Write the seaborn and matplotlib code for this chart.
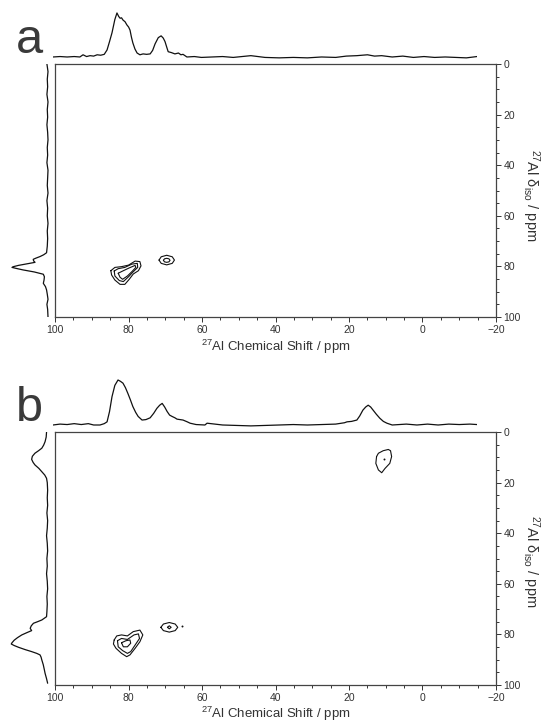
import matplotlib
matplotlib.use('Agg')
import matplotlib.pyplot as plt
import seaborn as sns
from matplotlib.ticker import MultipleLocator

# ---------------- data (ppm, normalised intensity) ----------------
# panel a, top (F2) projection
top_a_ppm = [100, 98, 96, 94, 92.4, 91.5, 90.5, 89.5, 88.5, 87.5, 86.5, 85.5, 84.7, 84.0, 83.3,
             82.5, 81.9, 81.4, 81.0, 80.6, 80.2, 79.6, 79.1, 78.6, 78.2, 77.8, 77.4, 76.8, 76.2,
             75.4, 74.5, 73.5, 72.5, 71.8, 71.1, 70.2, 69.4, 68.8, 68.3, 67.8, 67.4, 66.5, 65.5,
             64.5, 63.8, 63.2, 62.1, 60, 58, 55, 52, 49, 44, 40, 36, 32, 28, 24, 20, 17, 14, 11,
             9, 7, 4, 1, -2, -5, -8, -11, -14, -17, -19, -20]
top_a_int = [0.00, 0.01, 0.00, 0.01, 0.00, 0.05, 0.01, 0.03, 0.02, 0.05, 0.04, 0.06, 0.16, 0.35, 0.55,
             0.85, 1.00, 0.92, 0.88, 0.89, 0.84, 0.80, 0.73, 0.68, 0.61, 0.45, 0.32, 0.18, 0.09,
             0.05, 0.07, 0.06, 0.07, 0.15, 0.30, 0.44, 0.48, 0.43, 0.35, 0.22, 0.12, 0.10, 0.07,
             0.09, 0.05, 0.06, 0.00, 0.01, -0.01, 0.00, 0.01, -0.01, 0.03, -0.01, -0.02, -0.01,
             -0.02, 0.00, -0.01, 0.02, 0.03, 0.05, 0.02, 0.03, 0.00, 0.02, -0.01, 0.01, -0.01,
             0.00, -0.01, -0.02, 0.00, 0.01]

# panel a, left (isotropic) projection
left_a_ppm = [0, 3, 6, 9, 12, 15, 18, 21, 24, 27, 30, 33, 36, 39, 42, 45, 48, 51, 54, 57, 60, 63,
              66, 69, 72, 74.6, 75.4, 76.1, 76.7, 77.2, 77.8, 78.4, 79.0, 79.6, 80.1, 80.4, 80.9,
              81.4, 82.2, 83.1, 84.1, 85.4, 86.7, 88.0, 89.3, 91, 93, 95, 97, 100]
left_a_int = [0.03, 0.00, 0.02, 0.01, 0.03, 0.00, 0.02, 0.01, 0.03, 0.01, 0.00, 0.02, 0.01, 0.03,
              0.00, 0.01, 0.02, 0.00, 0.03, 0.01, 0.02, 0.00, 0.02, 0.01, 0.02, 0.04, 0.12, 0.22,
              0.33, 0.41, 0.40, 0.36, 0.59, 0.82, 0.96, 1.00, 0.85, 0.69, 0.38, 0.13, 0.10, 0.11,
              0.13, 0.07, 0.04, 0.02, 0.00, 0.03, 0.01, 0.00]

# panel b, top projection
top_b_ppm = [100, 98, 96, 94, 92, 90, 88.5, 86.7, 85.5, 84.7, 84.0, 83.3, 82.5, 81.6, 80.9, 80.2,
             79.5, 78.8, 78.1, 77.4, 76.6, 75.9, 74.8, 73.7, 72.5, 71.5, 70.6, 69.8, 69.1, 68.4,
             67.7, 67.0, 66.3, 65.5, 64.9, 63.2, 62.0, 61.2, 59.5, 57, 56.4, 52, 48, 44, 40, 36,
             32, 28, 24, 20, 17.5, 16.8, 15.5, 14.0, 13.2, 12.3, 11.5, 10.8, 10.1, 9.4, 8.5, 7.5,
             6.5, 5.5, 4.0, 2, 0, -3, -6, -9, -12, -15, -18, -20]
top_b_int = [0.00, 0.02, 0.01, 0.03, 0.01, 0.03, 0.00, 0.00, 0.03, 0.07, 0.30, 0.63, 0.88, 1.00,
             0.97, 0.93, 0.83, 0.70, 0.56, 0.41, 0.28, 0.19, 0.11, 0.12, 0.16, 0.26, 0.37, 0.44,
             0.48, 0.40, 0.30, 0.22, 0.19, 0.16, 0.13, 0.11, 0.07, 0.04, 0.01, 0.00, 0.04, 0.00,
             -0.01, -0.02, -0.01, 0.00, 0.01, 0.00, 0.01, 0.02, 0.05, 0.07, 0.08, 0.11, 0.20,
             0.33, 0.40, 0.44, 0.40, 0.33, 0.24, 0.15, 0.08, 0.04, 0.00, 0.01, 0.02, 0.00, 0.02,
             0.00, 0.02, 0.01, 0.02, 0.01]

# panel b, left projection
left_b_ppm = [0, 2, 3.8, 5.2, 6.4, 7.4, 8.4, 9.6, 10.8, 12.0, 13.0, 14.4, 15.7, 17.0, 18.3, 20, 23,
              26, 29, 32, 35, 38, 41, 44, 47, 50, 53, 56, 59, 62, 65, 68, 71, 73, 74.3, 75.0,
              75.6, 76.6, 77.6, 78.5, 79.3, 80.2, 81.3, 82.3, 83.3, 83.8, 84.4, 85.1, 86.0, 86.8,
              87.5, 88.1, 89.0, 90.1, 92, 94, 95.4, 97.5, 99.3]
left_b_int = [0.03, 0.04, 0.07, 0.11, 0.16, 0.25, 0.35, 0.42, 0.44, 0.40, 0.35, 0.24, 0.16, 0.08,
              0.03, 0.01, 0.00, 0.01, 0.00, 0.02, 0.00, 0.01, 0.03, 0.01, 0.00, 0.02, 0.01, 0.03,
              0.01, 0.00, 0.02, 0.01, 0.02, 0.03, 0.16, 0.28, 0.39, 0.45, 0.48, 0.44, 0.57, 0.71,
              0.83, 0.92, 0.98, 1.00, 0.92, 0.80, 0.62, 0.44, 0.30, 0.21, 0.18, 0.16, 0.12, 0.09,
              0.07, 0.03, 0.00]

a_tet_outer_x = [84.8, 83.7, 81.9, 80.0, 78.2, 76.9, 76.6, 77.3, 78.7, 79.8, 81.0, 82.3, 83.7, 84.6]
a_tet_outer_y = [81.7, 80.4, 80.1, 79.5, 77.9, 78.1, 79.8, 81.7, 83.0, 85.1, 87.1, 87.1, 85.4, 83.4]
a_tet_mid_x = [83.9, 82.8, 81.0, 79.1, 77.6, 77.5, 78.7, 80.0, 81.4, 82.5, 83.7]
a_tet_mid_y = [81.8, 80.9, 80.4, 79.1, 78.8, 80.4, 82.1, 84.1, 86.0, 85.6, 83.8]
a_tet_in_x = [82.8, 81.4, 79.8, 78.2, 78.0, 79.1, 80.3, 81.6, 82.3]
a_tet_in_y = [82.7, 81.7, 80.6, 79.6, 80.4, 82.1, 83.8, 85.1, 84.3]
a_p2_outer_x = [71.7, 71.1, 69.6, 68.1, 67.5, 68.1, 69.6, 71.1]
a_p2_outer_y = [77.5, 76.2, 75.6, 76.2, 77.5, 78.8, 79.4, 78.8]
a_p2_in_x = [70.5, 70.2, 69.6, 69.0, 68.7, 69.0, 69.6, 70.2]
a_p2_in_y = [77.6, 77.0, 76.8, 77.0, 77.6, 78.2, 78.4, 78.2]

b_tet_outer_x = [83.9, 83.2, 81.9, 80.3, 78.7, 76.9, 76.1, 76.9, 78.2, 79.6, 80.5, 81.9, 83.4, 84.1]
b_tet_outer_y = [82.2, 80.6, 80.2, 80.6, 78.9, 78.3, 80.2, 82.9, 85.5, 88.1, 88.8, 87.5, 85.5, 83.8]
b_tet_mid_x = [83.0, 81.9, 80.3, 78.5, 77.3, 77.0, 78.2, 79.4, 80.3, 81.6, 82.8]
b_tet_mid_y = [82.5, 81.6, 82.0, 80.2, 79.8, 81.6, 84.2, 86.8, 87.5, 86.4, 84.9]
b_tet_in_x = [81.9, 80.7, 79.6, 79.4, 80.3, 81.4]
b_tet_in_y = [83.3, 82.5, 82.2, 83.5, 84.9, 84.9]
b_p2_outer_x = [71.2, 70.5, 68.9, 67.3, 66.6, 67.3, 68.9, 70.5]
b_p2_outer_y = [77.2, 75.9, 75.3, 75.9, 77.2, 78.5, 79.1, 78.5]
b_p2_in_x = [69.4, 68.9, 68.4, 68.9]
b_p2_in_y = [77.2, 76.6, 77.2, 77.8]
b_oct_x = [12.5, 12.0, 10.7, 9.3, 8.7, 8.4, 8.9, 10.2, 11.1, 12.0, 12.7]
b_oct_y = [9.7, 8.4, 7.4, 6.9, 7.4, 9.7, 12.4, 14.4, 16.1, 15.0, 12.4]
b_dots_x = [10.4, 65.5]
b_dots_y = [10.8, 76.7]

x_ticks = [100, 80, 60, 40, 20, 0, -20]
y_ticks = [0, 20, 40, 60, 80, 100]
panel_labels = ['a', 'b']
xlabel = r'$^{27}$Al Chemical Shift / ppm'
ylabel = r'$^{27}$Al δ$_{iso}$ / ppm'

# ---------------- styling ----------------
sns.set_theme(style='white')
plt.rcParams['font.family'] = ['Liberation Sans', 'DejaVu Sans']
plt.rcParams['mathtext.fontset'] = 'custom'
plt.rcParams['mathtext.rm'] = 'Liberation Sans'
plt.rcParams['mathtext.it'] = 'Liberation Sans:italic'
plt.rcParams['mathtext.default'] = 'regular'

W, H = 541, 723
fig = plt.figure(figsize=(W / 100, H / 100), dpi=100)
TXT = '#333333'
LINE = '#111111'


def ax_px(x0, y0, x1, y1):
    return fig.add_axes([x0 / W, 1 - y1 / H, (x1 - x0) / W, (y1 - y0) / H])


def ring(ax, xs, ys, lw=0.8):
    sns.lineplot(x=list(xs) + [xs[0]], y=list(ys) + [ys[0]], sort=False, estimator=None,
                 color=LINE, lw=lw, ax=ax)


panels = [
    dict(main=(55, 64, 496, 317), top=(53, 8, 477, 62), left=(8, 64, 52, 317),
         label_xy=(16, 53), top_ylim=(-0.114, 1.113), left_xlim=(1.111, -0.111),
         top_data=(top_a_ppm, top_a_int), left_data=(left_a_ppm, left_a_int),
         rings=[(a_tet_outer_x, a_tet_outer_y), (a_tet_mid_x, a_tet_mid_y),
                (a_tet_in_x, a_tet_in_y), (a_p2_outer_x, a_p2_outer_y),
                (a_p2_in_x, a_p2_in_y)],
         dots=None, xlab_y=351, ylab=(531, 195)),
    dict(main=(55, 432, 496, 685), top=(53, 375, 477, 429), left=(8, 432, 52, 685),
         label_xy=(16, 421), top_ylim=(-0.089, 1.111), left_xlim=(1.09, -0.12),
         top_data=(top_b_ppm, top_b_int), left_data=(left_b_ppm, left_b_int),
         rings=[(b_tet_outer_x, b_tet_outer_y), (b_tet_mid_x, b_tet_mid_y),
                (b_tet_in_x, b_tet_in_y), (b_p2_outer_x, b_p2_outer_y),
                (b_p2_in_x, b_p2_in_y), (b_oct_x, b_oct_y)],
         dots=(b_dots_x, b_dots_y), xlab_y=718, ylab=(531, 561)),
]

for lab, p in zip(panel_labels, panels):
    # main 2D map
    ax = ax_px(*p['main'])
    for xs, ys in p['rings']:
        ring(ax, xs, ys)
    if p['dots'] is not None:
        sns.scatterplot(x=p['dots'][0], y=p['dots'][1], s=2, color=LINE, linewidth=0, ax=ax)
    ax.set_xlim(100, -20)
    ax.set_ylim(100, 0)
    ax.set_xticks(x_ticks)
    ax.set_yticks(y_ticks)
    ax.xaxis.set_minor_locator(MultipleLocator(5))
    ax.yaxis.set_minor_locator(MultipleLocator(5))
    ax.yaxis.tick_right()
    ax.set_xlabel('')
    ax.set_ylabel('')
    ax.tick_params(axis='x', which='both', bottom=True, top=False, direction='out',
                   colors='#333333', labelsize=7.5, pad=2.6, width=0.7)
    ax.tick_params(axis='y', which='both', left=False, right=True, direction='out',
                   colors='#333333', labelsize=7.5, pad=2.0, width=0.7)
    ax.tick_params(which='major', length=3.5)
    ax.tick_params(which='minor', length=2.2)
    for s in ax.spines.values():
        s.set_color('#444444')
        s.set_linewidth(0.9)
    ax.grid(False)

    # top projection
    axt = ax_px(*p['top'])
    sns.lineplot(x=p['top_data'][0], y=p['top_data'][1], sort=False, estimator=None,
                 color=LINE, lw=0.9, ax=axt)
    axt.set_xlim(100, -20)
    axt.set_ylim(*p['top_ylim'])
    axt.axis('off')

    # left projection
    axl = ax_px(*p['left'])
    sns.lineplot(x=p['left_data'][1], y=p['left_data'][0], sort=False, estimator=None,
                 color=LINE, lw=0.9, ax=axl, orient='y')
    axl.set_xlim(*p['left_xlim'])
    axl.set_ylim(100, 0)
    axl.axis('off')

    fig.text(p['label_xy'][0] / W, 1 - p['label_xy'][1] / H, lab, fontsize=35,
             color='#3a3a3a', ha='left', va='baseline')
    fig.text(275.5 / W, 1 - p['xlab_y'] / H, xlabel, fontsize=9.5, color=TXT,
             ha='center', va='baseline')
    fig.text(p['ylab'][0] / W, 1 - p['ylab'][1] / H, ylabel, fontsize=10.5, color=TXT,
             ha='center', va='center', rotation=270)

fig.savefig('out.png', dpi=100)
